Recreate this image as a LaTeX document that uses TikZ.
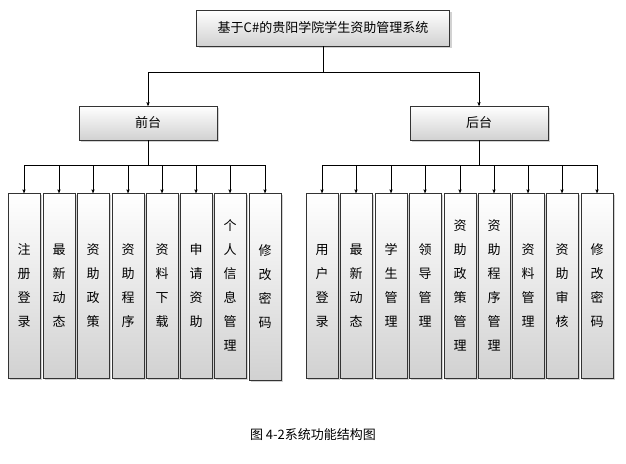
\documentclass[tikz,border=0pt]{standalone}
\usepackage{fontspec}
\newfontfamily\cjk{Noto Sans CJK SC}
\usetikzlibrary{arrows,shadows}
\tikzset{
    font={\cjk\fontsize{13pt}{24pt}\selectfont},
    box/.style={
           rectangle,
           draw=black!80, thin,
           top color=white, bottom color=black!18,
           drop shadow={shadow xshift=2pt, shadow yshift=-2pt, fill=black!35},
           inner sep=2pt,
           align=center,
           },
    leaf/.style={box, minimum width=32pt, minimum height=185pt, anchor=north},
}
\begin{document}
\begin{tikzpicture}[x=1pt,y=-1pt,->,>=stealth']
\useasboundingbox (0,0) rectangle (626,463);

\node[box, minimum width=253pt, minimum height=36pt] (TOP) at (323,28) {基于C\#的贵阳学院学生资助管理系统};
\node[box, minimum width=138pt, minimum height=34pt] (FRONT) at (148,123) {前台};
\node[box, minimum width=138pt, minimum height=34pt] (BACK) at (479,123) {后台};

% front-end modules
\foreach \x/\t [count=\i] in {24/{注\\册\\登\\录}, 59/{最\\新\\动\\态}, 93/{资\\助\\政\\策}, 128/{资\\助\\程\\序},
    162/{资\\料\\下\\载}, 196/{申\\请\\资\\助}, 230/{个\\人\\信\\息\\管\\理}}
  \node[leaf] (F\i) at (\x,193) {\t};
\node[leaf, minimum height=187pt] (F8) at (265,193) {修\\改\\密\\码};

% back-end modules
\foreach \x/\t [count=\i] in {322/{用\\户\\登\\录}, 356/{最\\新\\动\\态}, 391/{学\\生\\管\\理}, 425/{领\\导\\管\\理},
    460/{资\\助\\政\\策\\管\\理}, 494/{资\\助\\程\\序\\管\\理}, 528/{资\\料\\管\\理}, 562/{资\\助\\审\\核}, 597/{修\\改\\密\\码}}
  \node[leaf] (B\i) at (\x,193) {\t};

\coordinate (J0) at (323,72);
\coordinate (J1) at (148,165);
\coordinate (J2) at (479,165);

\draw[-] (TOP) -- (J0);
\draw (J0) -| (FRONT);
\draw (J0) -| (BACK);
\draw[-] (FRONT) -- (J1);
\draw[-] (BACK) -- (J2);
\foreach \i in {1,...,8} \draw (J1) -| (F\i);
\foreach \i in {1,...,9} \draw (J2) -| (B\i);

\node[draw=none] (CAPTION) at (313,435) {图 4-2系统功能结构图};
\end{tikzpicture}
\end{document}
